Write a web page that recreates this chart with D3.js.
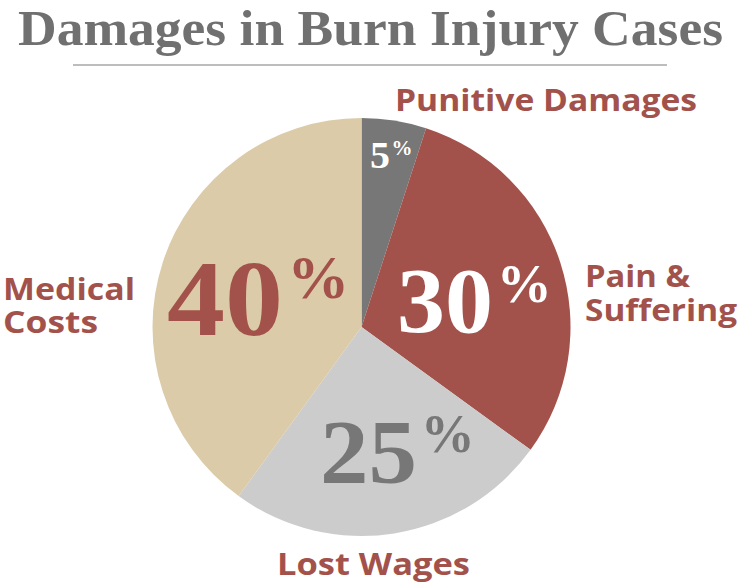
<!DOCTYPE html>
<html>
<head>
<meta charset="utf-8">
<script src="https://cdn.jsdelivr.net/npm/d3@7"></script>
<style>
  html, body { margin: 0; padding: 0; background: #ffffff; }
  svg { display: block; }
</style>
</head>
<body>
<svg id="chart" width="740" height="586"></svg>
<script>
// ---- data ----
const categories = ["Punitive Damages", "Pain & Suffering", "Lost Wages", "Medical Costs"];
const values = [5, 30, 25, 40];
const sliceColors = ["#777777", "#a3524b", "#cccccc", "#dccba8"];
const percentColors = ["#ffffff", "#ffffff", "#777777", "#a3524b"];
const labelLines = [["Punitive Damages"], ["Pain &", "Suffering"], ["Lost Wages"], ["Medical", "Costs"]];
const titleText = "Damages in Burn Injury Cases";

// ---- layout (positions, sizes) ----
const W = 740, H = 586;
const cx = 361.5, cy = 327, R = 209;
const labelFont = "'Open Sans', 'DejaVu Sans', sans-serif";
const serifFont = "'Liberation Serif', 'Times New Roman', serif";
const red = "#a3524b";

const labelLayout = [
  { x: 395, y: 111, lh: 34, widths: [302] },
  { x: 585, y: 287, lh: 34, widths: [105, 152] },
  { x: 277, y: 575, lh: 34, widths: [193] },
  { x: 3,   y: 300, lh: 33, widths: [132, 95] }
];
const pctLayout = [
  { x: 370, y: 168, fs: 37,  pdy: -13, pfs: 21, dw: 20 },
  { x: 397, y: 332, fs: 93,  pdy: -30, pfs: 55, dw: 96 },
  { x: 320, y: 483, fs: 92,  pdy: -31, pfs: 54, dw: 97 },
  { x: 167, y: 335, fs: 108, pdy: -37, pfs: 62, dw: 116 }
];

const svg = d3.select("#chart");

// title
svg.append("text")
  .attr("x", 18).attr("y", 45)
  .attr("font-family", serifFont)
  .attr("font-weight", "bold")
  .attr("font-size", 51)
  .attr("fill", "#707070")
  .attr("textLength", 705)
  .attr("lengthAdjust", "spacingAndGlyphs")
  .text(titleText);

svg.append("line")
  .attr("x1", 73).attr("x2", 667)
  .attr("y1", 65).attr("y2", 65)
  .attr("stroke", "#bdbdbd")
  .attr("stroke-width", 2);

// pie
const pie = d3.pie().sort(null).value(d => d)(values);
const arc = d3.arc().innerRadius(0).outerRadius(R);

const g = svg.append("g").attr("transform", `translate(${cx},${cy})`);
g.selectAll("path.slice")
  .data(pie)
  .join("path")
  .attr("class", "slice")
  .attr("d", arc)
  .attr("fill", (d, i) => sliceColors[i]);

// percentage labels
pie.forEach((d, i) => {
  const L = pctLayout[i];
  const t = svg.append("text")
    .attr("x", L.x).attr("y", L.y)
    .attr("font-family", serifFont)
    .attr("font-weight", "bold")
    .attr("fill", percentColors[i]);
  t.append("tspan")
    .attr("font-size", L.fs)
    .attr("textLength", L.dw)
    .attr("lengthAdjust", "spacingAndGlyphs")
    .text(values[i]);
  t.append("tspan")
    .attr("font-size", L.pfs)
    .attr("x", L.x + L.dw + L.fs * 0.04)
    .attr("dy", L.pdy)
    .text("%");
});

// outer category labels (multi-line via tspans)
labelLines.forEach((lines, i) => {
  const L = labelLayout[i];
  const t = svg.append("text")
    .attr("font-family", labelFont)
    .attr("font-weight", 700)
    .attr("font-size", 31)
    .attr("fill", red);
  lines.forEach((line, j) => {
    t.append("tspan")
      .attr("x", L.x).attr("y", L.y + j * L.lh)
      .attr("textLength", L.widths[j])
      .attr("lengthAdjust", "spacingAndGlyphs")
      .text(line);
  });
});
</script>
</body>
</html>
